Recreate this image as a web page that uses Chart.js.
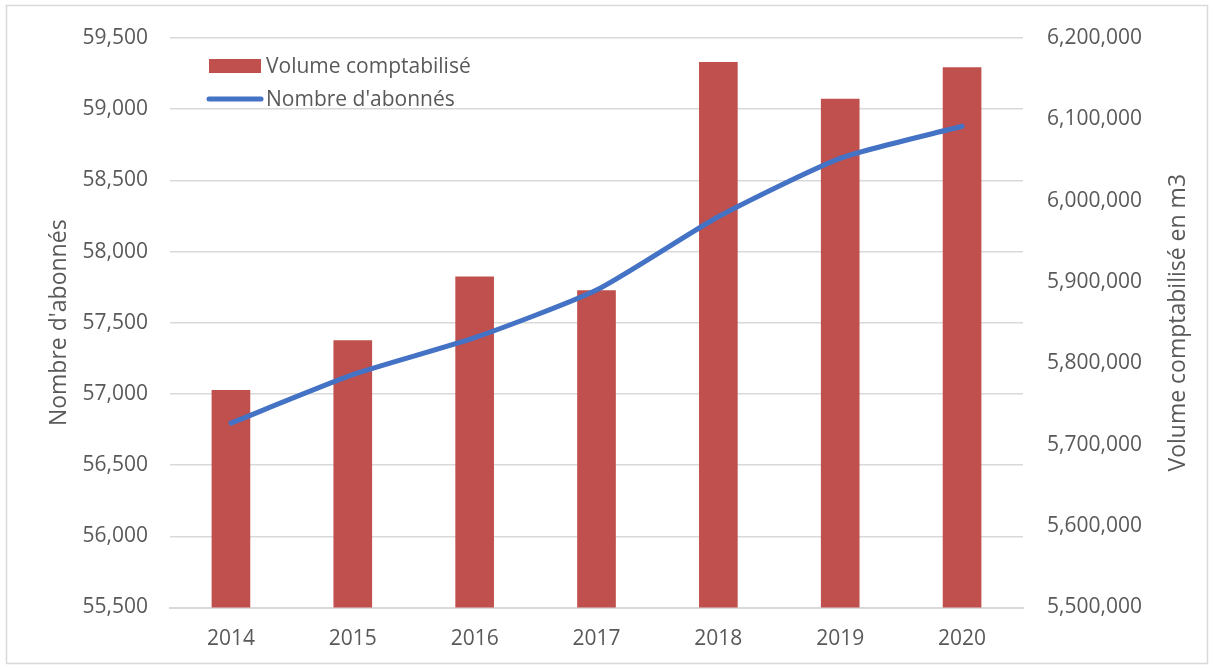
<!DOCTYPE html>
<html>
<head>
<meta charset="utf-8">
<script src="https://cdn.jsdelivr.net/npm/chart.js@4"></script>
<style>
  html, body { margin: 0; padding: 0; background: #fff; }
  #wrap { width: 1213px; height: 669px; }
</style>
</head>
<body>
<div id="wrap"><canvas id="myChart" width="1213" height="669"></canvas></div>
<script>
// data
const years = ['2014', '2015', '2016', '2017', '2018', '2019', '2020'];
const volume = [5767000, 5828000, 5906500, 5889500, 6170000, 6125000, 6163500];
const abonnes = [56795, 57135, 57395, 57730, 58245, 58655, 58880];
const seriesNames = ['Volume comptabilisé', "Nombre d'abonnés"];
const axisTitles = ["Nombre d'abonnés", 'Volume comptabilisé en m3'];

const grey = '#595959';
const fontFam = '"Open Sans", "Liberation Sans", sans-serif';
const fmt = v => Number(v).toLocaleString('en-US');

// legend drawn inside the plot, top left, like the original
const insideLegend = {
    id: 'insideLegend',
    afterDraw(chart) {
        const c = chart.ctx;
        const a = chart.chartArea;
        const ds = chart.data.datasets;
        c.save();
        c.font = '21px ' + fontFam;
        c.textBaseline = 'middle';
        // bar entry
        c.fillStyle = ds[0].backgroundColor;
        c.fillRect(a.left + 39, 59, 52, 14);
        c.fillStyle = grey;
        c.fillText(ds[0].label, a.left + 96, 67);
        // line entry
        c.strokeStyle = ds[1].borderColor;
        c.lineWidth = 5;
        c.lineCap = 'round';
        c.beginPath();
        c.moveTo(a.left + 39, 99);
        c.lineTo(a.left + 91, 99);
        c.stroke();
        c.fillText(ds[1].label, a.left + 96, 100);
        c.restore();
    }
};

// right axis title reads bottom to top in the original
const rightTitle = {
    id: 'rightTitle',
    afterDraw(chart) {
        const c = chart.ctx;
        const a = chart.chartArea;
        c.save();
        c.translate(1178, (a.top + a.bottom) / 2);
        c.rotate(-Math.PI / 2);
        c.font = '23px ' + fontFam;
        c.fillStyle = grey;
        c.textAlign = 'center';
        c.textBaseline = 'middle';
        c.fillText(axisTitles[1], 0, 0);
        c.restore();
    }
};

// thin outer frame
const frame = {
    id: 'frame',
    afterDraw(chart) {
        const c = chart.ctx;
        c.save();
        c.strokeStyle = '#D9D9D9';
        c.lineWidth = 1.5;
        c.strokeRect(6.5, 5.5, 1201, 658);
        c.restore();
    }
};

const ctx = document.getElementById('myChart').getContext('2d');
const myChart = new Chart(ctx, {
    data: {
        labels: years,
        datasets: [{
            type: 'bar',
            label: seriesNames[0],
            data: volume,
            yAxisID: 'yRight',
            backgroundColor: '#C0504D',
            borderWidth: 0,
            barThickness: 38,
            order: 1
        }, {
            type: 'line',
            label: seriesNames[1],
            data: abonnes,
            yAxisID: 'yLeft',
            borderColor: '#4472C4',
            borderWidth: 5,
            borderCapStyle: 'round',
            tension: 0.2,
            pointRadius: 0,
            fill: false,
            order: 0
        }]
    },
    options: {
        responsive: false,
        animation: false,
        layout: { padding: { top: 38, left: 0, right: 0, bottom: 0 } },
        plugins: {
            legend: { display: false },
            tooltip: { enabled: false }
        },
        scales: {
            x: {
                grid: { display: false, drawTicks: false },
                border: { display: true, color: '#D9D9D9', width: 2 },
                ticks: { color: grey, font: { family: fontFam, size: 21 }, padding: 19 },
                afterFit(s) { s.height = 61.5; }
            },
            yLeft: {
                position: 'left',
                min: 55500,
                max: 59500,
                ticks: { stepSize: 500, color: grey, font: { family: fontFam, size: 21 }, padding: 22, callback: fmt },
                grid: { color: '#D9D9D9', lineWidth: 1.5, drawTicks: false },
                border: { display: false },
                title: {
                    display: true,
                    text: axisTitles[0],
                    color: grey,
                    font: { family: fontFam, size: 23 },
                    padding: { top: 46, bottom: 0 }
                },
                afterFit(s) { s.width = 170; }
            },
            yRight: {
                position: 'right',
                min: 5500000,
                max: 6200000,
                ticks: { stepSize: 100000, color: grey, font: { family: fontFam, size: 21 }, padding: 24, callback: fmt },
                grid: { display: false, drawTicks: false },
                border: { display: false },
                afterFit(s) { s.width = 190; }
            }
        }
    },
    plugins: [insideLegend, rightTitle, frame]
});
</script>
</body>
</html>
